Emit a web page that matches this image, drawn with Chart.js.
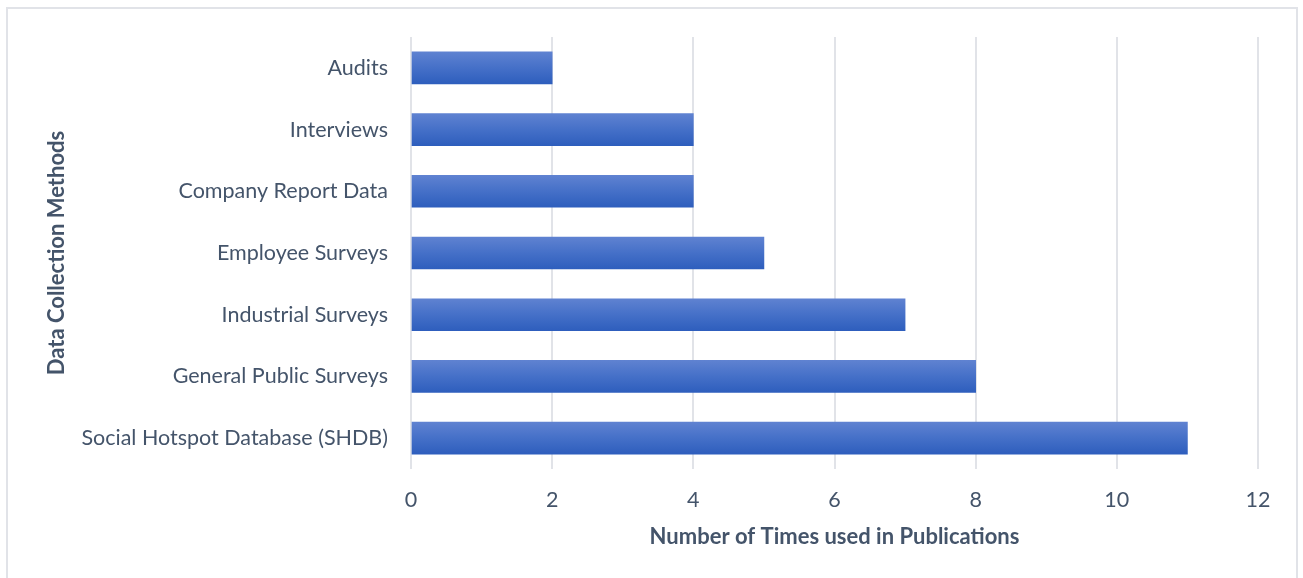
<!DOCTYPE html>
<html>
<head>
<meta charset="utf-8">
<script src="https://cdn.jsdelivr.net/npm/chart.js@4"></script>
<style>
  html, body { margin: 0; padding: 0; background: #fff; overflow: hidden; }
  #frame {
    position: absolute; left: 6px; top: 7px; width: 1292px; height: 600px;
    border: 2px solid #e1e3e8; box-sizing: border-box;
  }
  #wrap { position: absolute; left: 0; top: 0; width: 1303px; height: 578px; }
</style>
</head>
<body>
<div id="frame"></div>
<div id="wrap"><canvas id="chart"></canvas></div>
<script>
const methods = [
  'Audits',
  'Interviews',
  'Company Report Data',
  'Employee Surveys',
  'Industrial Surveys',
  'General Public Surveys',
  'Social Hotspot Database (SHDB)'
];
const timesUsed = [2, 4, 4, 5, 7, 8, 11];
const xTicks = [0, 2, 4, 6, 8, 10, 12];

const textColor = '#44546a';
const fontFamily = 'Lato, "Open Sans", sans-serif';
const barHeight = 32;

// vertical gradient per bar, lighter at the top
function barGradient(context) {
  const chart = context.chart;
  const yScale = chart.scales.y;
  const fallback = '#4570c8';
  if (!chart.chartArea || !yScale || context.dataIndex === undefined) return fallback;
  const mid = yScale.getPixelForValue(context.dataIndex);
  if (!Number.isFinite(mid)) return fallback;
  const g = chart.ctx.createLinearGradient(0, mid - barHeight / 2, 0, mid + barHeight / 2);
  g.addColorStop(0, '#5f82d1');
  g.addColorStop(0.5, '#4570c8');
  g.addColorStop(1, '#2e5ebd');
  return g;
}

const ctx = document.getElementById('chart').getContext('2d');
new Chart(ctx, {
  type: 'bar',
  data: {
    labels: methods,
    datasets: [{
      data: timesUsed,
      backgroundColor: barGradient,
      borderWidth: 0,
      barThickness: barHeight
    }]
  },
  options: {
    indexAxis: 'y',
    responsive: true,
    maintainAspectRatio: false,
    animation: false,
    layout: {
      padding: { left: 40, top: 37, right: 45, bottom: 28 }
    },
    plugins: {
      legend: { display: false },
      tooltip: { enabled: false }
    },
    scales: {
      x: {
        min: 0,
        max: 12,
        afterBuildTicks: axis => { axis.ticks = xTicks.map(v => ({ value: v })); },
        afterFit: scale => { scale.height = 81; },
        grid: { color: '#e1e3e8', lineWidth: 2, drawTicks: false },
        border: { display: false },
        ticks: { color: textColor, font: { family: fontFamily, size: 21.5 }, padding: 18 },
        title: {
          display: true,
          text: 'Number of Times used in Publications',
          color: textColor,
          font: { family: fontFamily, size: 22, weight: 'bold' },
          padding: { top: 0, bottom: 0 }
        }
      },
      y: {
        grid: { display: false, drawTicks: false },
        border: { display: false },
        ticks: { color: textColor, font: { family: fontFamily, size: 21.5 }, padding: 23 },
        afterFit: scale => { scale.width = 371; },
        title: {
          display: true,
          text: 'Data Collection Methods',
          color: textColor,
          font: { family: fontFamily, size: 22, weight: 'bold' },
          padding: { top: 4, bottom: 0 }
        }
      }
    }
  }
});
</script>
</body>
</html>
